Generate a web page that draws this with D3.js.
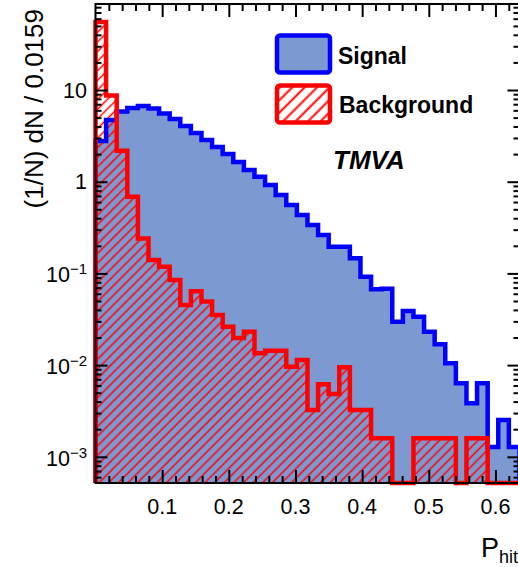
<!DOCTYPE html>
<html>
<head>
<meta charset="utf-8">
<script src="https://cdn.jsdelivr.net/npm/d3@7"></script>
<style>
html,body{margin:0;padding:0;background:#fff;}
svg{display:block;}
text{font-family:"Liberation Sans",Arial,Helvetica,sans-serif;}
</style>
</head>
<body>
<svg id="chart" width="518" height="567"></svg>
<script>
// ---- data ----
const binWidth = 0.0159;
const binCount = 40;
const signalValues = [
  2.78, 4.71, 5.83, 6.36, 6.69, 6.29, 5.54, 4.83, 4.05, 3.40,
  2.85, 2.39, 2.00, 1.64, 1.34, 1.13, 0.92, 0.716, 0.557, 0.433,
  0.337, 0.262, 0.195, 0.195, 0.146, 0.092, 0.067, 0.068, 0.0297, 0.0389,
  0.0336, 0.0231, 0.0169, 0.0105, 0.00633, 0.00383, 0.00633, 0.00128, 0.00252, 0.00128
];
const backgroundValues = [
  55.2, 8.7, 2.18, 0.686, 0.241, 0.140, 0.118, 0.0847, 0.0452, 0.0640,
  0.0495, 0.0352, 0.0262, 0.0198, 0.0231, 0.01345, 0.01436, 0.01436, 0.0096, 0.01137,
  0.00324, 0.0062, 0.00484, 0.0095, 0.00324, 0.00324, 0.00159, 0.00159, 0, 0,
  0.00159, 0.00159, 0.00159, 0.00159, 0, 0.00159, 0.00159, 0, 0, 0
];
const xMajorTicks = [0.1, 0.2, 0.3, 0.4, 0.5, 0.6];
const xTickLabels = ["0.1", "0.2", "0.3", "0.4", "0.5", "0.6"];
const yDecadeTicks = [1e-3, 1e-2, 1e-1, 1, 10];
const yTickBase = ["10", "10", "10", "1", "10"];
const yTickExp = ["\u22123", "\u22122", "\u22121", "", ""];
const seriesNames = ["Signal", "Background"];
const yTitle = "(1/N) dN / 0.0159";
const xTitleMain = "P";
const xTitleSub = "hit";
const yDomain = [5.18e-4, 86.7];

// ---- layout ----
const L = 95.5, T = 4, B = 483;
const xMax = binWidth * binCount;
const R = L + xMax * 666.6;

const svg = d3.select("#chart");
svg.append("rect").attr("width", 518).attr("height", 567).attr("fill", "#fff");

const x = d3.scaleLinear().domain([0, xMax]).range([L, R]);
const y = d3.scaleLog().domain(yDomain).range([B, T]);

const defs = svg.append("defs");
function makeHatch(id, s, w) {
  const p = defs.append("pattern").attr("id", id)
    .attr("patternUnits", "userSpaceOnUse")
    .attr("width", s).attr("height", s)
    .attr("patternTransform", "rotate(-45)");
  p.append("line").attr("x1", 0).attr("x2", s).attr("y1", s / 2).attr("y2", s / 2)
    .attr("stroke", "#ff0000").attr("stroke-width", w);
}
makeHatch("hatch", 6.8, 1.5);
makeHatch("hatchLeg", 8.8, 2);

const clip = defs.append("clipPath").attr("id", "plotclip");
clip.append("rect").attr("x", L).attr("y", T).attr("width", R - L).attr("height", B - T);

function yv(v) { return v > 0 ? Math.min(y(v), B) : B; }
function stepPath(vals) {
  const p = d3.path();
  p.moveTo(x(0), B);
  vals.forEach((v, i) => {
    p.lineTo(x(i * binWidth), yv(v));
    p.lineTo(x((i + 1) * binWidth), yv(v));
  });
  p.lineTo(x(vals.length * binWidth), B);
  return p.toString();
}

const plot = svg.append("g").attr("clip-path", "url(#plotclip)");
plot.append("path").attr("d", stepPath(signalValues) + "Z").attr("fill", "#7d99d1");
plot.append("path").attr("d", stepPath(backgroundValues) + "Z").attr("fill", "url(#hatch)");
const lines = svg.append("g");
lines.append("path").attr("d", stepPath(signalValues)).attr("fill", "none")
  .attr("stroke", "#0000ff").attr("stroke-width", 4.5).attr("stroke-linejoin", "miter");
lines.append("path").attr("d", stepPath(backgroundValues)).attr("fill", "none")
  .attr("stroke", "#ff0000").attr("stroke-width", 4.5).attr("stroke-linejoin", "miter");

// ---- axes ----
const xMinor = d3.range(1, 32).map(i => i * 0.02).filter(v => Math.abs(v * 10 - Math.round(v * 10)) > 1e-6 && v < xMax);
const yMinor = [];
[-4, -3, -2, -1, 0, 1].forEach(e => { for (let m = 2; m <= 9; m++) { const v = m * Math.pow(10, e); if (v > yDomain[0] && v < yDomain[1]) yMinor.push(v); } });

function styleAxis(g) {
  g.select(".domain").remove();
  g.selectAll(".tick line").attr("stroke", "#000").attr("stroke-width", 2);
  g.selectAll(".tick text").remove();
}
const axes = svg.append("g");
axes.append("g").attr("transform", `translate(0,${B})`)
  .call(d3.axisBottom(x).tickValues(xMajorTicks).tickSize(-13).tickFormat("")).call(styleAxis);
axes.append("g").attr("transform", `translate(0,${B})`)
  .call(d3.axisBottom(x).tickValues(xMinor).tickSize(-7).tickFormat("")).call(styleAxis);
axes.append("g").attr("transform", `translate(0,${T})`)
  .call(d3.axisTop(x).tickValues(xMajorTicks).tickSize(-13).tickFormat("")).call(styleAxis);
axes.append("g").attr("transform", `translate(0,${T})`)
  .call(d3.axisTop(x).tickValues(xMinor).tickSize(-7).tickFormat("")).call(styleAxis);
axes.append("g").attr("transform", `translate(${L},0)`)
  .call(d3.axisLeft(y).tickValues(yDecadeTicks).tickSize(-12).tickFormat("")).call(styleAxis);
axes.append("g").attr("transform", `translate(${L},0)`)
  .call(d3.axisLeft(y).tickValues(yMinor).tickSize(-6).tickFormat("")).call(styleAxis);
axes.append("g").attr("transform", `translate(${R},0)`)
  .call(d3.axisRight(y).tickValues(yDecadeTicks).tickSize(-12).tickFormat("")).call(styleAxis);
axes.append("g").attr("transform", `translate(${R},0)`)
  .call(d3.axisRight(y).tickValues(yMinor).tickSize(-6).tickFormat("")).call(styleAxis);
axes.append("rect").attr("x", L).attr("y", T).attr("width", R - L).attr("height", B - T)
  .attr("fill", "none").attr("stroke", "#000").attr("stroke-width", 2);

// tick labels
xMajorTicks.forEach((v, i) => {
  svg.append("text").attr("x", x(v)).attr("y", 514).attr("text-anchor", "middle")
    .attr("font-size", 21.5).attr("fill", "#000").text(xTickLabels[i]);
});
yDecadeTicks.forEach((v, i) => {
  const t = svg.append("text").attr("text-anchor", "end").attr("font-size", 21.5).attr("fill", "#000");
  if (yTickExp[i]) {
    t.attr("x", 87).attr("y", y(v) + 9);
    t.append("tspan").text(yTickBase[i]);
    t.append("tspan").attr("font-size", 15).attr("dy", -8).text(yTickExp[i]);
  } else {
    t.attr("x", 87).attr("y", y(v) + 7.5).text(yTickBase[i]);
  }
});

// axis titles
svg.append("text").attr("transform", "translate(43,9) rotate(-90)")
  .attr("text-anchor", "end").attr("font-size", 26).attr("fill", "#000").text(yTitle);
const xt = svg.append("text").attr("x", 481).attr("y", 557).attr("font-size", 27).attr("fill", "#000");
xt.append("tspan").text(xTitleMain);
xt.append("tspan").attr("font-size", 18).attr("dy", 6).text(xTitleSub);

// legend
const leg = svg.append("g");
leg.append("rect").attr("x", 277).attr("y", 35.5).attr("width", 53).attr("height", 37)
  .attr("rx", 3).attr("fill", "#7d99d1").attr("stroke", "#0000ff").attr("stroke-width", 4.5);
leg.append("rect").attr("x", 277).attr("y", 85.5).attr("width", 53).attr("height", 37)
  .attr("rx", 3).attr("fill", "#fff").attr("stroke", "none");
leg.append("rect").attr("x", 277).attr("y", 85.5).attr("width", 53).attr("height", 37)
  .attr("rx", 3).attr("fill", "url(#hatchLeg)").attr("stroke", "#ff0000").attr("stroke-width", 4.5);
leg.append("text").attr("x", 338).attr("y", 64).attr("font-size", 23).attr("font-weight", "bold")
  .attr("fill", "#000").text(seriesNames[0]);
leg.append("text").attr("x", 339).attr("y", 112.5).attr("font-size", 23).attr("font-weight", "bold")
  .attr("fill", "#000").text(seriesNames[1]);
svg.append("text").attr("x", 333).attr("y", 169).attr("font-size", 26).attr("font-weight", "bold")
  .attr("font-style", "italic").attr("fill", "#000").text("TMVA");
</script>
</body>
</html>
